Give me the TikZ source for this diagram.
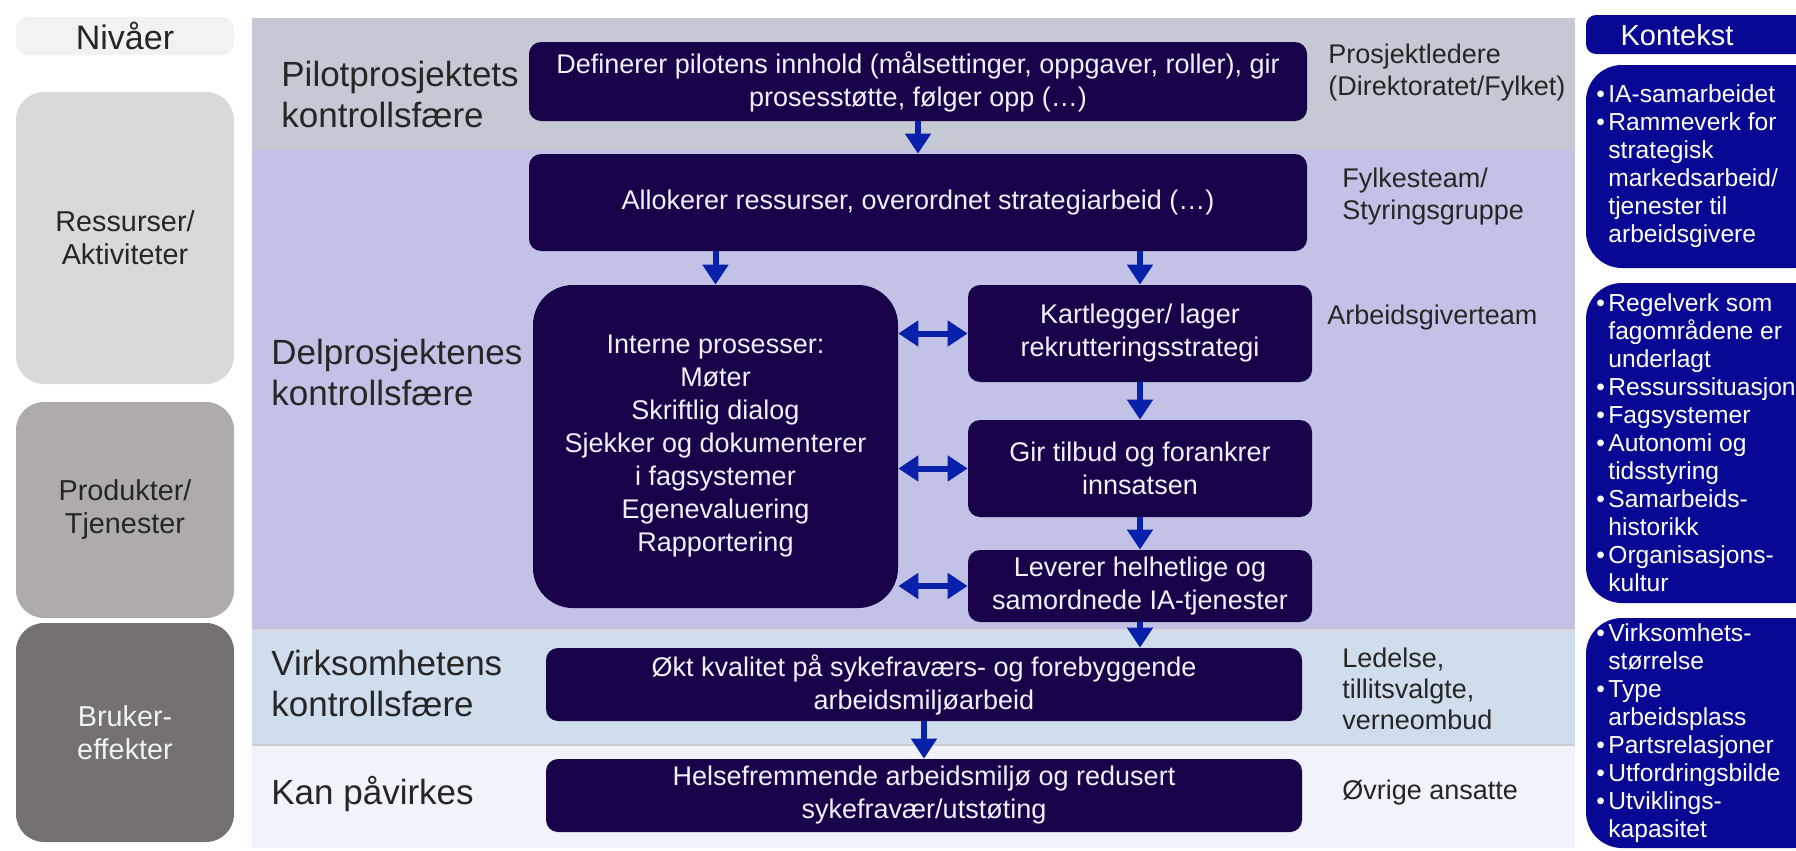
\documentclass[tikz,border=0pt]{standalone}
\usepackage{fontspec}
\setmainfont{Liberation Sans}
\usetikzlibrary{arrows.meta}
\definecolor{dboxc}{RGB}{24,2,74}
\definecolor{arrc}{RGB}{8,32,170}
\definecolor{kontc}{RGB}{8,8,148}
\definecolor{boxtxt}{RGB}{242,240,255}
\definecolor{pilotbg}{RGB}{196,201,211}
\definecolor{delbg}{RGB}{194,194,230}
\definecolor{virkbg}{RGB}{207,221,236}
\definecolor{kanbg}{RGB}{240,243,250}
\definecolor{lvlzero}{RGB}{242,242,242}
\definecolor{lvlone}{RGB}{217,217,217}
\definecolor{lvltwo}{RGB}{175,171,171}
\definecolor{lvlthree}{RGB}{118,113,113}
\definecolor{labtxt}{RGB}{38,38,38}
\newcommand{\kb}{\makebox[6pt][l]{•}}
\newcommand{\kc}{\hspace*{6pt}}
\begin{document}
\begin{tikzpicture}[x=0.5pt,y=-0.5pt,
  dbox/.style={fill=dboxc, rounded corners=6pt, text=boxtxt, align=center, inner sep=0pt,
    font=\fontsize{13.5}{16.5}\selectfont},
  lvlbox/.style={rounded corners=14pt, align=center, inner sep=0pt, minimum width=109pt,
    text=labtxt, font=\fontsize{14.4}{16.5}\selectfont},
  sphere/.style={anchor=west, align=left, inner sep=0pt, text=labtxt,
    font=\fontsize{17.5}{20.5}\selectfont},
  actor/.style={anchor=west, align=left, inner sep=0pt, text=labtxt,
    font=\fontsize{13.5}{16}\selectfont},
  kbg/.style={fill=kontc, rounded corners=18pt},
  ktext/.style={anchor=west, align=left, inner sep=0pt, text=white,
    font=\fontsize{12.3}{14}\selectfont},
  arr/.style={draw=arrc, line width=3pt, -{Triangle[width=12.5pt,length=10pt]}},
  darr/.style={draw=arrc, line width=3pt,
    {Triangle[width=12.5pt,length=10pt]}-{Triangle[width=12.5pt,length=10pt]}}]
\useasboundingbox (0,0) rectangle (1796,851);
\clip (0,0) rectangle (1796,851);
\fill[white] (0,0) rectangle (1796,851);

% level column
\node[lvlbox, fill=lvlzero, rounded corners=6pt, minimum height=19pt,
  font=\fontsize{17}{19}\selectfont] (niv) at (125,36) {Nivåer};
\node[lvlbox, fill=lvlone, minimum height=146pt] (res) at (125,238) {Ressurser/\\Aktiviteter};
\node[lvlbox, fill=lvltwo, minimum height=108pt] (prod) at (125,510) {Produkter/\\Tjenester};
\node[lvlbox, fill=lvlthree, minimum height=109.5pt, text=lvlzero] (bruk) at (125,732.5) {Bruker-\\effekter};

% panel bands
\fill[pilotbg] (252,18) rectangle (1575,150);
\fill[delbg] (252,150) rectangle (1575,630);
\fill[virkbg] (252,630) rectangle (1575,745);
\fill[kanbg] (252,745) rectangle (1575,848);
\draw[line width=0.6pt, black!15] (252,630) -- (1575,630);
\draw[line width=0.6pt, white!80!black] (252,745) -- (1575,745);

% sphere labels
\node[sphere] (lpilot) at (281,94) {Pilotprosjektets\\kontrollsfære};
\node[sphere] (ldel) at (271,372) {Delprosjektenes\\kontrollsfære};
\node[sphere] (lvirk) at (271,683) {Virksomhetens\\kontrollsfære};
\node[sphere] (lkan) at (271,794) {Kan påvirkes};

% dark boxes
\node[dbox, minimum width=389pt, minimum height=39.5pt] (pilot) at (918,81.5)
  {Definerer pilotens innhold (målsettinger, oppgaver, roller), gir\\prosesstøtte, følger opp (…)};
\node[dbox, minimum width=389pt, minimum height=48.5pt] (alloc) at (918,202.5)
  {Allokerer ressurser, overordnet strategiarbeid (…)};
\node[dbox, rounded corners=20pt, minimum width=182.5pt, minimum height=161.5pt] (interne) at (715.5,446.5)
  {Interne prosesser:\\Møter\\Skriftlig dialog\\Sjekker og dokumenterer\\i fagsystemer\\Egenevaluering\\Rapportering};
\node[dbox, minimum width=172pt, minimum height=48.5pt] (kart) at (1140,333.5)
  {Kartlegger/ lager\\rekrutteringsstrategi};
\node[dbox, minimum width=172pt, minimum height=48.5pt] (gir) at (1140,468.5)
  {Gir tilbud og forankrer\\innsatsen};
\node[dbox, minimum width=172pt, minimum height=36pt] (lev) at (1140,586)
  {Leverer helhetlige og\\samordnede IA-tjenester};
\node[dbox, minimum width=378pt, minimum height=36.5pt] (virk) at (924,684.5)
  {Økt kvalitet på sykefraværs- og forebyggende\\arbeidsmiljøarbeid};
\node[dbox, minimum width=378pt, minimum height=36.5pt] (kan) at (924,795.5)
  {Helsefremmende arbeidsmiljø og redusert\\sykefravær/utstøting};

% actor labels
\node[actor] (aproj) at (1328,73) {Prosjektledere\\(Direktoratet/Fylket)};
\node[actor] (afylk) at (1342,196.5) {Fylkesteam/\\Styringsgruppe};
\node[actor] (aarb) at (1327,318) {Arbeidsgiverteam};
\node[actor, font=\fontsize{13.5}{15.5}\selectfont] (aled) at (1342,689) {Ledelse,\\tillitsvalgte,\\verneombud};
\node[actor] (aovr) at (1342,793) {Øvrige ansatte};

% arrows
\draw[arr] (pilot.south) -- (alloc.north);
\draw[arr] (alloc.south -| interne.north) -- (interne.north);
\draw[arr] (alloc.south -| kart.north) -- (kart.north);
\draw[arr] (kart.south) -- (gir.north);
\draw[arr] (gir.south) -- (lev.north);
\draw[arr] (lev.south) -- (lev.south |- virk.north);
\draw[arr] (virk.south) -- (kan.north);
\draw[darr] (interne.east |- kart.west) -- (kart.west);
\draw[darr] (interne.east |- gir.west) -- (gir.west);
\draw[darr] (interne.east |- lev.west) -- (lev.west);

% context column
\fill[kontc, rounded corners=5pt] (1586,15) rectangle (1830,54);
\node[inner sep=0pt, text=white, font=\fontsize{14.5}{16}\selectfont] (kont) at (1677,35) {Kontekst};
\fill[kbg] (1586,65) rectangle (1830,268);
\node[ktext] (kone) at (1596,166) {\kb IA-samarbeidet\\\kb Rammeverk for\\\kc strategisk\\\kc markedsarbeid/\\\kc tjenester til\\\kc arbeidsgivere};
\fill[kbg] (1586,283) rectangle (1830,603);
\node[ktext] (ktwo) at (1596,443) {\kb Regelverk som\\\kc fagområdene er\\\kc underlagt\\\kb Ressurssituasjon\\\kb Fagsystemer\\\kb Autonomi og\\\kc tidsstyring\\\kb Samarbeids-\\\kc historikk\\\kb Organisasjons-\\\kc kultur};
\fill[kbg] (1586,618) rectangle (1830,848);
\node[ktext] (kthree) at (1596,733) {\kb Virksomhets-\\\kc størrelse\\\kb Type\\\kc arbeidsplass\\\kb Partsrelasjoner\\\kb Utfordringsbilde\\\kb Utviklings-\\\kc kapasitet};
\end{tikzpicture}
\end{document}
